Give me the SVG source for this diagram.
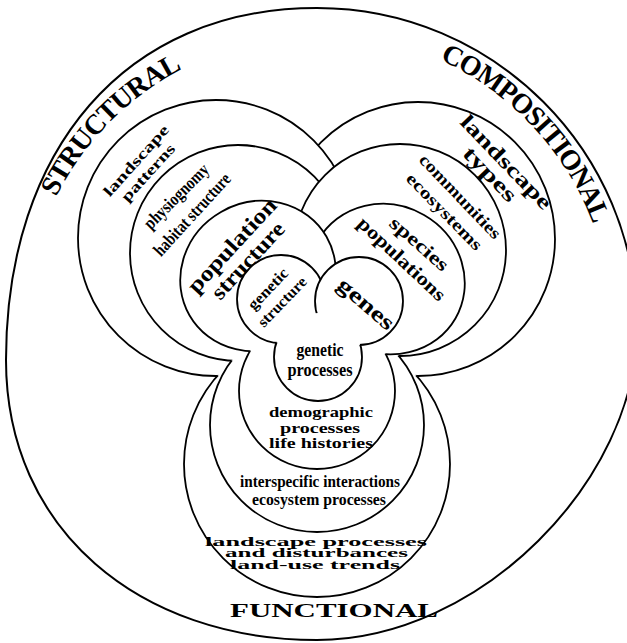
<svg xmlns="http://www.w3.org/2000/svg" width="627" height="643" viewBox="0 0 627 643">
<defs>
<style>
.bg{fill:#fff}
.ring{fill:#fff;stroke:#000;stroke-width:1.8}
.pad{fill:#fff;stroke:none}
.edge{fill:none;stroke:#000;stroke-width:1.8}
.outer{fill:none;stroke:#000;stroke-width:2}
.t{font-family:"Liberation Serif","Times New Roman",serif;font-weight:bold;fill:#000;text-anchor:middle}
.hd{font-size:28px;letter-spacing:-1.1px}
</style>
<path id="arcS" d="M 25.9,305.1 A 292 292 0 0 1 289.0,37.3"/>
<path id="arcC" d="M 352.4,35.1 A 295 295 0 0 1 611.6,312.0"/>
<mask id="m3" maskUnits="userSpaceOnUse" x="0" y="0" width="627" height="643">
<rect width="627" height="643" fill="#fff"/>
<circle cx="216" cy="238" r="138" fill="#000"/>
<circle cx="418" cy="239" r="137" fill="#000"/>
</mask>
<mask id="m2" maskUnits="userSpaceOnUse" x="0" y="0" width="627" height="643">
<rect width="627" height="643" fill="#fff"/>
<circle cx="238" cy="253" r="108" fill="#000"/>
<circle cx="400" cy="250" r="106" fill="#000"/>
</mask>
<mask id="m1" maskUnits="userSpaceOnUse" x="0" y="0" width="627" height="643">
<rect width="627" height="643" fill="#fff"/>
<ellipse cx="258" cy="276" rx="79" ry="74" transform="rotate(-30 258 276)" fill="#000"/>
<ellipse cx="387" cy="279" rx="79" ry="74" transform="rotate(30 387 279)" fill="#000"/>
</mask>
<mask id="m0" maskUnits="userSpaceOnUse" x="0" y="0" width="627" height="643">
<rect width="627" height="643" fill="#fff"/>
<circle cx="281" cy="299" r="44" fill="#000"/>
<circle cx="359" cy="301" r="44" fill="#000"/>
</mask>
</defs>
<rect class="bg" width="627" height="643"/>

<g id="outer">
<path class="outer" d="M 317,8 C 493.7,8 637,151.3 637,328 C 637,480 480,640 317,640 C 140,640 6,530 6,360 C 6,150 125,8 317,8 Z"/>
</g>
<g id="structural">
<text class="t hd"><textPath href="#arcS" startOffset="50%">STRUCTURAL</textPath></text>
</g>
<g id="compositional">
<text class="t hd"><textPath href="#arcC" startOffset="50%">COMPOSITIONAL</textPath></text>
</g>
<g id="functional">
<text class="t" x="334" y="617" font-size="18" textLength="208" lengthAdjust="spacingAndGlyphs">FUNCTIONAL</text>
</g>

<!-- level 3 -->
<g id="landscape-types">
<circle class="ring" cx="418" cy="239" r="137"/>
<text class="t" font-size="21" transform="translate(501.2,167) rotate(46.1)" textLength="122" lengthAdjust="spacingAndGlyphs">landscape</text>
<text class="t" font-size="21" transform="translate(485,179) rotate(46)" textLength="68" lengthAdjust="spacingAndGlyphs">types</text>
</g>
<g id="landscape-patterns">
<circle class="ring" cx="216" cy="238" r="138"/>
<text class="t" font-size="15" transform="translate(139.8,164) rotate(-48.2)" textLength="90" lengthAdjust="spacingAndGlyphs">landscape</text>
<text class="t" font-size="15" transform="translate(151.8,176) rotate(-47.8)" textLength="72" lengthAdjust="spacingAndGlyphs">patterns</text>
</g>
<g id="landscape-processes">
<circle class="pad" cx="317" cy="464" r="133"/>
<circle class="edge" cx="317" cy="464" r="133" mask="url(#m3)"/>
<text class="t" font-size="11.5" x="316" y="545.5" textLength="222" lengthAdjust="spacingAndGlyphs">landscape processes</text>
<text class="t" font-size="11.5" x="316.5" y="557" textLength="183" lengthAdjust="spacingAndGlyphs">and disturbances</text>
<text class="t" font-size="11.5" x="315" y="568.5" textLength="170" lengthAdjust="spacingAndGlyphs">land-use trends</text>
</g>

<!-- level 2 -->
<g id="physiognomy">
<circle class="ring" cx="238" cy="253" r="108"/>
<text class="t" font-size="18" transform="translate(180.5,200.5) rotate(-45)" textLength="84" lengthAdjust="spacingAndGlyphs">physiognomy</text>
<text class="t" font-size="18" transform="translate(196.4,218.4) rotate(-47.6)" textLength="105" lengthAdjust="spacingAndGlyphs">habitat structure</text>
</g>
<g id="communities">
<circle class="ring" cx="400" cy="250" r="106"/>
<text class="t" font-size="17" transform="translate(456.1,200.4) rotate(46.3)" textLength="110" lengthAdjust="spacingAndGlyphs">communities</text>
<text class="t" font-size="17" transform="translate(440.3,215.5) rotate(45.6)" textLength="101" lengthAdjust="spacingAndGlyphs">ecosystems</text>
</g>
<g id="interspecific-interactions">
<circle class="pad" cx="317" cy="425" r="107"/>
<circle class="edge" cx="317" cy="425" r="107" mask="url(#m2)"/>
<text class="t" font-size="17" x="320" y="487" textLength="160" lengthAdjust="spacingAndGlyphs">interspecific interactions</text>
<text class="t" font-size="17" x="319" y="504.5" textLength="134" lengthAdjust="spacingAndGlyphs">ecosystem processes</text>
</g>

<!-- level 1 -->
<g id="species-populations">
<ellipse class="ring" cx="387" cy="279" rx="79" ry="74" transform="rotate(30 387 279)"/>
<text class="t" font-size="19" transform="translate(415.2,248.6) rotate(41.2)" textLength="72" lengthAdjust="spacingAndGlyphs">species</text>
<text class="t" font-size="19" transform="translate(397.5,263.5) rotate(43.2)" textLength="113" lengthAdjust="spacingAndGlyphs">populations</text>
</g>
<g id="population-structure">
<ellipse class="ring" cx="258" cy="276" rx="79" ry="74" transform="rotate(-30 258 276)"/>
<text class="t" font-size="22" transform="translate(237.3,250.4) rotate(-47.3)" textLength="120" lengthAdjust="spacingAndGlyphs">population</text>
<text class="t" font-size="22" transform="translate(253.2,265.4) rotate(-47.1)" textLength="97" lengthAdjust="spacingAndGlyphs">structure</text>
</g>
<g id="demographic-processes">
<circle class="pad" cx="317" cy="391" r="78"/>
<circle class="edge" cx="317" cy="391" r="78" mask="url(#m1)"/>
<text class="t" font-size="15" x="321" y="417" textLength="104" lengthAdjust="spacingAndGlyphs">demographic</text>
<text class="t" font-size="15" x="320" y="433" textLength="80" lengthAdjust="spacingAndGlyphs">processes</text>
<text class="t" font-size="15" x="321" y="448" textLength="104" lengthAdjust="spacingAndGlyphs">life histories</text>
</g>

<!-- level 0 -->
<g id="genetic-structure">
<circle class="ring" cx="281" cy="299" r="44"/>
<text class="t" font-size="15.5" transform="translate(271.7,292.4) rotate(-46.3)" textLength="51" lengthAdjust="spacingAndGlyphs">genetic</text>
<text class="t" font-size="15.5" transform="translate(285.8,305.4) rotate(-46.1)" textLength="63" lengthAdjust="spacingAndGlyphs">structure</text>
</g>
<g id="genes">
<circle class="ring" cx="359" cy="301" r="44"/>
<text class="t" font-size="22" transform="translate(361.4,309.2) rotate(41)" textLength="68" lengthAdjust="spacingAndGlyphs">genes</text>
</g>
<g id="genetic-processes">
<circle class="pad" cx="318" cy="357" r="44"/>
<circle class="edge" cx="318" cy="357" r="44" mask="url(#m0)"/>
<text class="t" font-size="18" x="320" y="356" textLength="47" lengthAdjust="spacingAndGlyphs">genetic</text>
<text class="t" font-size="18" x="320" y="376" textLength="65" lengthAdjust="spacingAndGlyphs">processes</text>
</g>
</svg>
